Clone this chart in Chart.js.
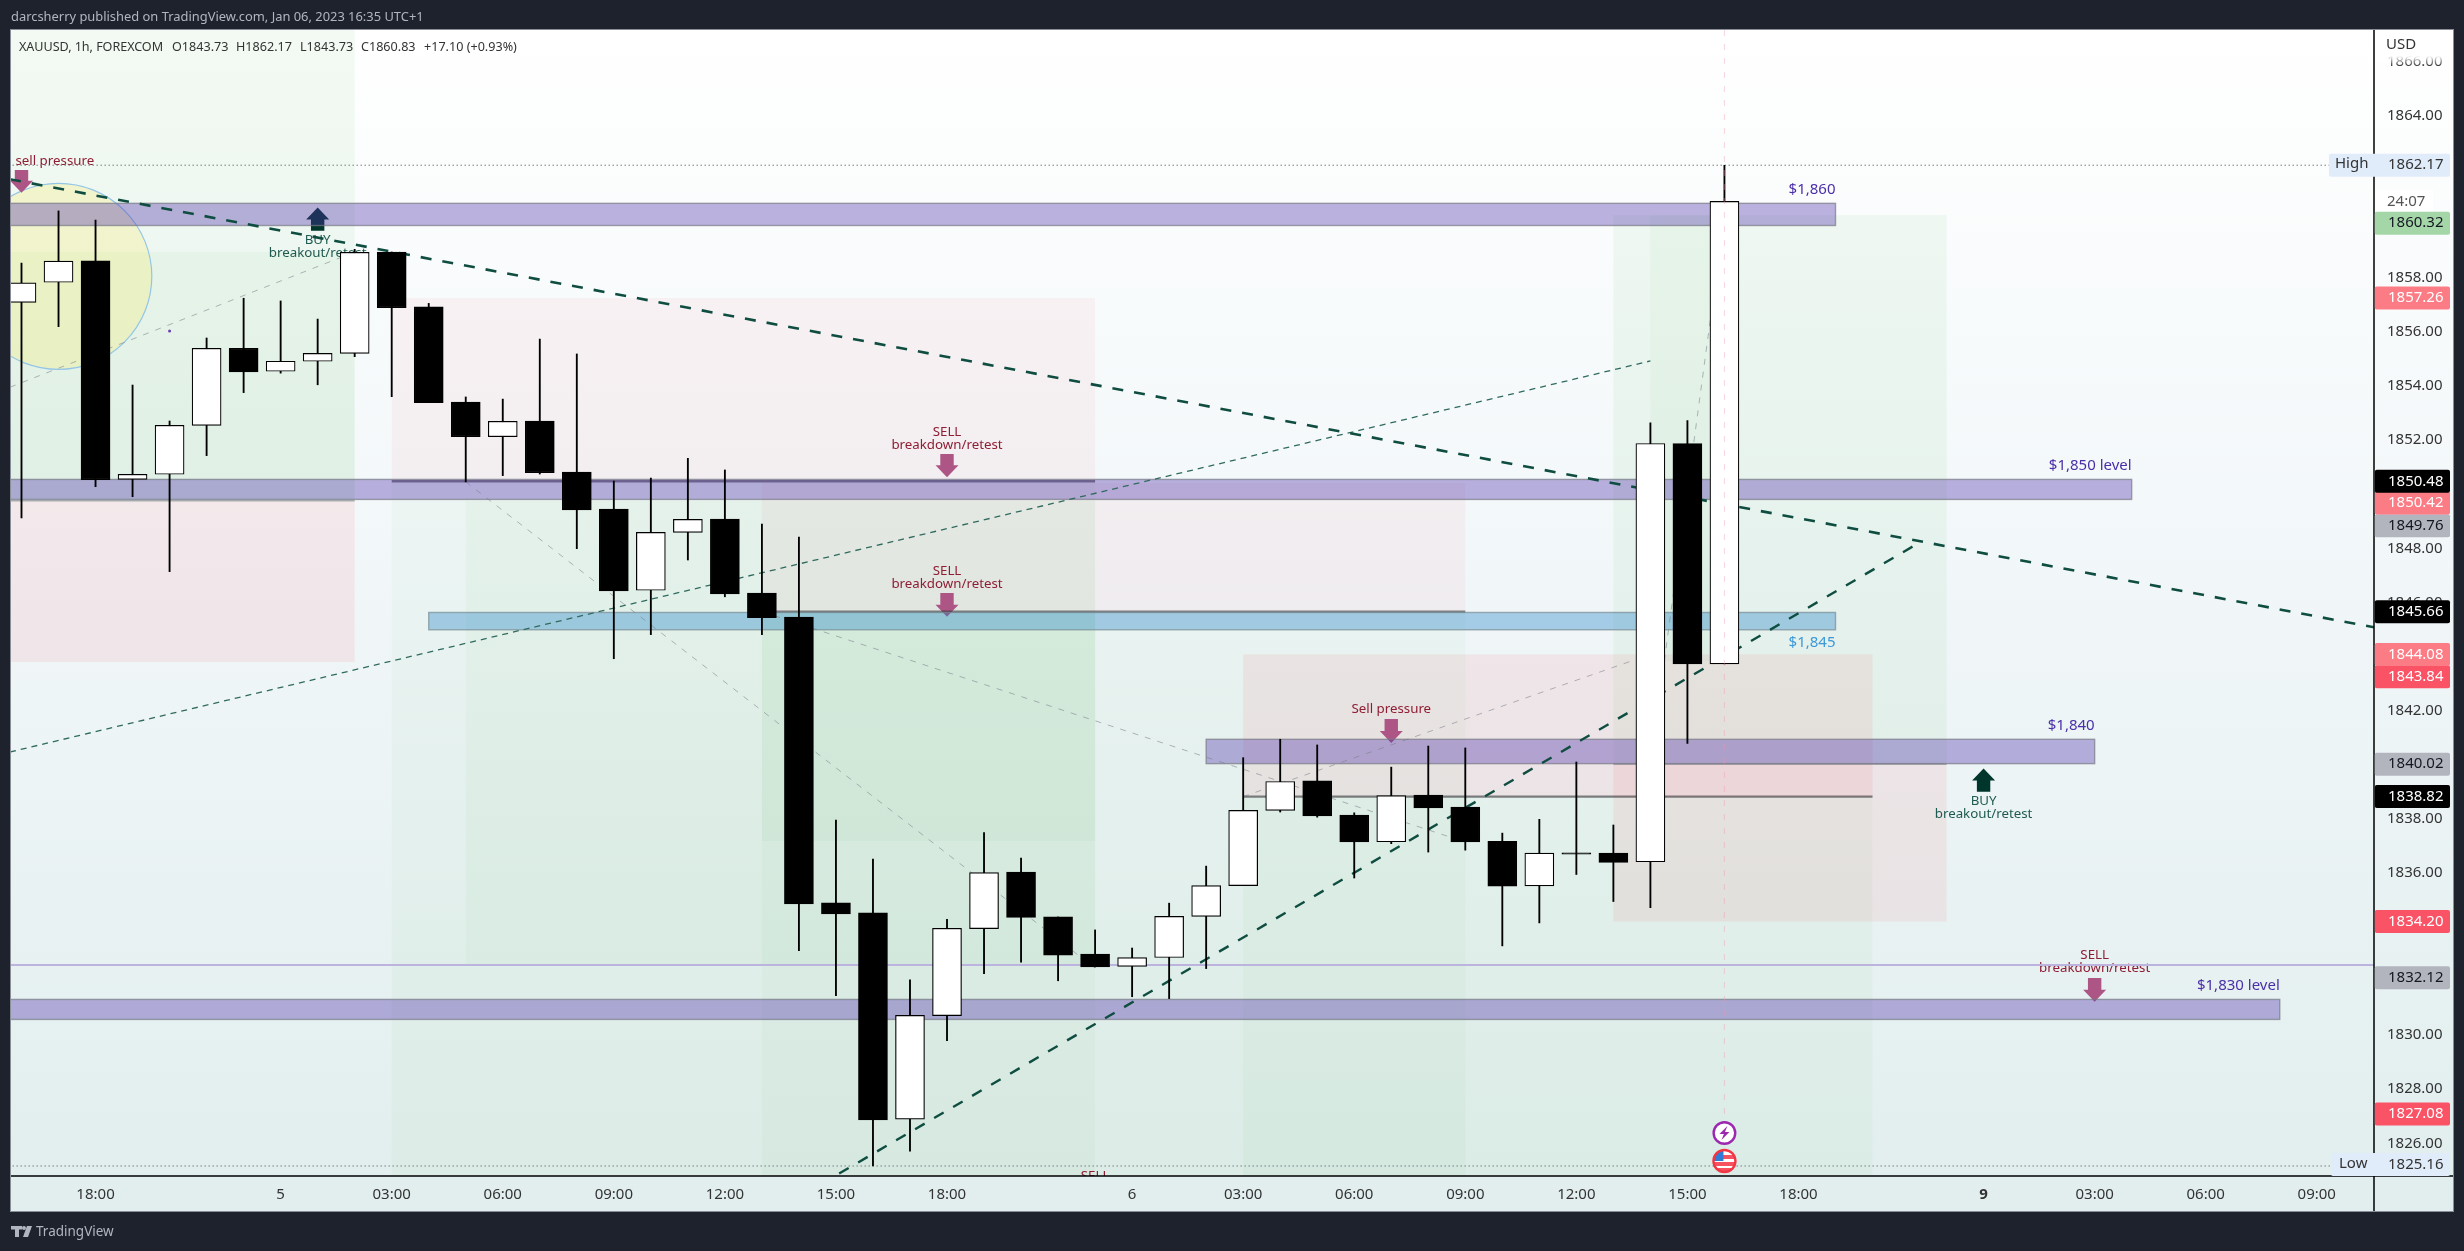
<!DOCTYPE html>
<html><head><meta charset="utf-8">
<style>html,body{margin:0;padding:0;background:#1e222d;overflow:hidden}canvas{display:block}</style>
<script src="https://cdn.jsdelivr.net/npm/chart.js@4/dist/chart.umd.min.js"></script>
</head><body><canvas id="c" width="2464" height="1251"></canvas>
<script>
// ---- candles, one per hourly bar, first bar = index 0
const opens=[1857.10,1857.84,1858.63,1850.55,1850.74,1852.55,1855.40,1854.55,1854.92,1855.21,1858.96,1856.93,1853.41,1852.13,1852.71,1850.82,1849.45,1846.45,1848.59,1849.08,1846.35,1845.46,1834.89,1834.52,1826.89,1830.72,1833.94,1836.03,1834.37,1833.00,1832.54,1832.87,1834.39,1835.53,1838.31,1839.40,1838.14,1837.15,1838.88,1838.43,1837.17,1835.52,1836.74,1836.73,1836.41,1851.88,1843.73];
const highs=[1858.55,1860.48,1860.14,1854.04,1852.71,1855.78,1857.25,1857.15,1856.48,1859.06,1858.96,1857.06,1853.60,1853.52,1855.74,1855.19,1850.49,1850.60,1851.33,1850.90,1848.90,1848.42,1837.95,1836.51,1832.04,1834.28,1837.49,1836.55,1834.37,1833.89,1833.22,1834.88,1836.25,1840.26,1840.94,1840.73,1838.22,1839.91,1840.69,1840.62,1837.47,1837.98,1840.10,1837.77,1852.64,1852.73,1862.17];
const lows=[1849.13,1856.20,1850.28,1849.91,1847.14,1851.43,1853.76,1854.48,1854.05,1855.09,1853.61,1853.39,1850.46,1850.69,1850.75,1847.99,1843.92,1844.81,1847.57,1846.21,1844.81,1833.12,1831.46,1825.16,1825.71,1829.79,1832.27,1832.70,1832.01,1832.52,1831.42,1831.35,1832.46,1835.53,1838.25,1838.06,1835.81,1837.08,1836.77,1836.84,1833.30,1834.15,1835.94,1834.94,1834.71,1840.79,1843.73];
const closes=[1857.82,1858.62,1850.54,1850.74,1852.55,1855.40,1854.53,1854.92,1855.21,1858.95,1856.90,1853.39,1852.13,1852.70,1850.80,1849.42,1846.43,1848.59,1849.07,1846.32,1845.44,1834.85,1834.48,1826.86,1830.73,1833.95,1836.01,1834.35,1832.96,1832.52,1832.87,1834.39,1835.53,1838.31,1839.38,1838.11,1837.14,1838.86,1838.40,1837.14,1835.51,1836.73,1836.69,1836.39,1851.88,1843.73,1860.83];
// ---- axes
const xTickBars=[2,7,10,13,16,19,22,25,30,33,36,39,42,45,48,53,56,59,62];
const xTickLabels=["18:00","5","03:00","06:00","09:00","12:00","15:00","18:00","6","03:00","06:00","09:00","12:00","15:00","18:00","9","03:00","06:00","09:00"];
const yTickValues=[1826,1828,1830,1832,1834,1836,1838,1840,1842,1844,1846,1848,1850,1852,1854,1856,1858,1860,1862,1864,1866];
const xMin=-0.2836,xMax=63.546,yMin=1824.79,yMax=1867.17;
// ---- drawings: [barFrom, barTo, priceTop, priceBottom]
const greenFaint=[[10,29,1850.48,1820],[20,39,1845.66,1820]];
const greenSoft=[[12,29,1849.76,1832.59],[33,50,1838.82,1820],[-1,9,1858.96,1849.76],[44,46,1860.32,1843.84],[20,29,1845.66,1837.18]];
const greenStrong=[[-1,9,1870,1849.76],[43,52,1860.32,1840.02]];
const redSoft=[[10,29,1857.26,1850.48],[20,39,1850.42,1845.66]];
const redStrong=[[-1,9,1849.76,1843.80],[33,50,1844.08,1838.82],[43,52,1840.02,1834.20]];
const purpleBands=[[-1,49,1860.76,1859.94],[-1,57,1850.55,1849.81],[32,56,1840.94,1840.04],[-1,61,1831.32,1830.58]];
const blueBands=[[11,49,1845.63,1844.99]];
// entry lines: [barFrom, barTo, price]
const entryLines=[[10,29,1850.48],[20,39,1845.66],[33,50,1838.82]];
const greyEntryLines=[[-1,9,1849.76],[43,52,1840.02]];
// band captions: [bar, price, text]
const bandCaptions=[[49,1861.26,"$1,860"],[57,1851.07,"$1,850 level"],[56,1841.45,"$1,840"],[61,1831.83,"$1,830 level"]];
const blueCaptions=[[49,1844.50,"$1,845"]];
// signal texts: [bar, price, text]
const redTexts=[[0.9,1862.32,"sell pressure"],[25,1852.30,"SELL"],[25,1851.80,"breakdown/retest"],[25,1847.16,"SELL"],[25,1846.67,"breakdown/retest"],[37,1842.04,"Sell pressure"],[56,1832.96,"SELL"],[56,1832.47,"breakdown/retest"],[29,1824.77,"SELL"]];
const tealTexts=[[8,1859.40,"BUY"],[8,1858.93,"breakout/retest"],[53,1838.64,"BUY"],[53,1838.16,"breakout/retest"]];
// arrows: [bar, tailPrice, tipPrice]
const sellArrows=[[0,1861.99,1861.15],[25,1851.49,1850.63],[25,1846.35,1845.47],[37,1841.69,1840.80],[56,1832.11,1831.23]];
const buyArrows=[[8,1859.75,1860.61],[53,1839.0,1839.86]];
// trend lines: [bar, price, bar, price]
const boldDown=[-0.31,1861.65,63.55,1845.08];
const boldUp=[21.06,1824.06,51.15,1848.12];
const thinUp=[-0.31,1840.47,44,1854.93];
const greyLines=[[-0.31,1853.96,9,1858.96],[12,1850.46,29,1832.48],[20,1845.66,39,1837.14],[33,1838.82,44,1844.08],[44,1840.02,46,1860.32]];
const highPrice=1862.17,lowPrice=1825.16,hLinePrice=1832.59;
const circle=[1,1858.06,2.52,3.44];
const markDot=[4,1856.04];
const nowBar=46;
// price tags: [price, text, background, text colour, extraShift]
const priceTags=[
 [1860.32,"1860.32","#a5d6a7","#131722",8],
 [1857.26,"1857.26","#fb7c85","#ffffff",0],
 [1849.76,"1849.76","#b2b5be","#131722",25],
 [1850.42,"1850.42","#fb7c85","#ffffff",20],
 [1850.48,"1850.48","#000000","#ffffff",0],
 [1845.66,"1845.66","#000000","#ffffff",0],
 [1843.84,"1843.84","#fa5366","#ffffff",16],
 [1844.08,"1844.08","#fb7c85","#ffffff",0],
 [1840.02,"1840.02","#b2b5be","#131722",0],
 [1838.82,"1838.82","#000000","#ffffff",0],
 [1834.20,"1834.20","#fa5366","#ffffff",0],
 [1832.12,"1832.12","#b2b5be","#131722",0],
 [1827.08,"1827.08","#fa5366","#ffffff",0]];
const FONT='"Noto Sans"';

function lineDS(a,color,width,dash,order){return {type:'line',data:[{x:a[0],y:a[1]},{x:a[2],y:a[3]}],borderColor:color,borderWidth:width,borderDash:dash,pointRadius:0,order:order,fill:false,tension:0};}

const background={id:'bg',beforeDraw(ch){const c=ch.ctx;c.save();c.fillStyle='#1e222d';c.fillRect(0,0,2464,1251);
 const g=c.createLinearGradient(0,30,0,1211);g.addColorStop(0,'#ffffff');g.addColorStop(.5,'#f0f6f8');g.addColorStop(1,'#e1eeed');
 c.fillStyle=g;c.fillRect(11,30,2442,1181);c.strokeStyle='#8a8e99';c.lineWidth=1;c.strokeRect(10.5,29.5,2443,1182);c.restore();}};

const drawings={id:'drawings',beforeDatasetsDraw(ch){const c=ch.ctx,X=ch.scales.x,Y=ch.scales.y,A=ch.chartArea;
 const px=v=>X.getPixelForValue(v),py=v=>Y.getPixelForValue(v);
 c.save();c.beginPath();c.rect(A.left,A.top,A.right-A.left,A.bottom-A.top);c.clip();
 const rect=(r,col)=>{c.fillStyle=col;c.fillRect(px(r[0]),py(r[2]),px(r[1])-px(r[0]),py(r[3])-py(r[2]));};
 greenFaint.forEach(r=>rect(r,'rgba(76,175,80,0.04)'));
 greenSoft.forEach(r=>rect(r,'rgba(76,175,80,0.045)'));
 greenStrong.forEach(r=>rect(r,'rgba(76,175,80,0.065)'));
 redSoft.forEach(r=>rect(r,'rgba(242,54,69,0.05)'));
 redStrong.forEach(r=>rect(r,'rgba(242,54,69,0.08)'));
 // circle
 c.beginPath();c.ellipse(px(circle[0]),py(circle[1]),px(circle[2])-px(0),py(0+1850)-py(1850+circle[3]),0,0,Math.PI*2);
 c.fillStyle='rgba(255,235,59,0.2)';c.fill();c.strokeStyle='#93c6e6';c.lineWidth=1.2;c.stroke();
 // arrows
 const arrow=(a,col)=>{const x=px(a[0]),t=py(a[1]),h=py(a[2]),d=h>t?1:-1;c.fillStyle=col;c.beginPath();
  c.moveTo(x-6.7,t);c.lineTo(x+6.7,t);c.lineTo(x+6.7,h-d*12);c.lineTo(x+11.5,h-d*12);c.lineTo(x,h);c.lineTo(x-11.5,h-d*12);c.lineTo(x-6.7,h-d*12);c.closePath();c.fill();};
 sellArrows.forEach(a=>arrow(a,'#ad5585'));
 buyArrows.forEach(a=>arrow(a,'#00352b'));
 // entry lines
 entryLines.forEach(l=>{c.strokeStyle='rgba(50,50,55,0.6)';c.lineWidth=2.4;c.beginPath();c.moveTo(px(l[0]),py(l[2]));c.lineTo(px(l[1]),py(l[2]));c.stroke();});
 greyEntryLines.forEach(l=>{c.strokeStyle='rgba(120,123,134,0.55)';c.lineWidth=1.6;c.beginPath();c.moveTo(px(l[0]),py(l[2]));c.lineTo(px(l[1]),py(l[2]));c.stroke();});
 // bands
 const band=(r,fill,stroke)=>{rect(r,fill);c.strokeStyle=stroke;c.lineWidth=1.4;c.strokeRect(px(r[0]),py(r[2]),px(r[1])-px(r[0]),py(r[3])-py(r[2]));};
 purpleBands.forEach(r=>band(r,'rgba(80,50,170,0.37)','rgba(120,123,134,0.7)'));
 blueBands.forEach(r=>band(r,'rgba(33,130,200,0.36)','rgba(120,140,150,0.7)'));
 // texts
 c.textBaseline='middle';c.font='15px '+FONT;c.textAlign='right';
 c.fillStyle='#4a2fa8';bandCaptions.forEach(t=>c.fillText(t[2],px(t[0]),py(t[1])));
 c.fillStyle='#3c98d8';blueCaptions.forEach(t=>c.fillText(t[2],px(t[0]),py(t[1])));
 c.textAlign='center';c.font='13.3px '+FONT;
 c.fillStyle='#8f1d33';redTexts.forEach(t=>c.fillText(t[2],px(t[0]),py(t[1])));
 c.fillStyle='#1f5a50';tealTexts.forEach(t=>c.fillText(t[2],px(t[0]),py(t[1])));
 c.restore();}
,afterDatasetsDraw(ch){const c=ch.ctx,X=ch.scales.x,Y=ch.scales.y,A=ch.chartArea;
 const x=X.getPixelForValue(nowBar);
 c.save();c.strokeStyle='rgba(240,150,170,0.35)';c.lineWidth=1.2;c.setLineDash([6,8]);c.beginPath();c.moveTo(x,A.top);c.lineTo(x,1122);c.stroke();c.setLineDash([]);
 c.fillStyle='#6a3fb5';c.beginPath();c.arc(X.getPixelForValue(markDot[0]),Y.getPixelForValue(markDot[1]),1.5,0,7);c.fill();
 // news markers
 let cy=1133;c.beginPath();c.arc(x,cy,10.8,0,7);c.fillStyle='#fff';c.fill();c.lineWidth=2.4;c.strokeStyle='#9c27b0';c.stroke();
 c.fillStyle='#9c27b0';c.beginPath();c.moveTo(x+3,cy-7);c.lineTo(x-5,cy+1);c.lineTo(x-.5,cy+1);c.lineTo(x-3,cy+7);c.lineTo(x+5,cy-1);c.lineTo(x+.5,cy-1);c.closePath();c.fill();
 cy=1161;c.save();c.beginPath();c.arc(x,cy,11,0,7);c.fillStyle='#fff';c.fill();c.clip();
 c.fillStyle='#f7525f';c.fillRect(x-11,cy-6,22,4);c.fillRect(x-11,cy+1,22,4);c.fillRect(x-11,cy+7,22,3);
 c.fillStyle='#2f7bd6';c.fillRect(x-11,cy-10,10,10);c.restore();
 c.beginPath();c.arc(x,cy,11,0,7);c.lineWidth=2.4;c.strokeStyle='#f23645';c.stroke();
 c.restore();},
 afterDraw(ch){const c=ch.ctx,Y=ch.scales.y,A=ch.chartArea;c.save();
 // axis lines
 c.strokeStyle='#000';c.lineWidth=1.5;c.beginPath();c.moveTo(A.right,30);c.lineTo(A.right,1211);c.moveTo(11,A.bottom);c.lineTo(2453,A.bottom);c.stroke();
 // fade at top of price axis
 const f=c.createLinearGradient(0,30,0,66);f.addColorStop(0,'#fff');f.addColorStop(.72,'#fff');f.addColorStop(1,'rgba(255,255,255,0)');
 c.fillStyle=f;c.fillRect(A.right+1,31,77,35);
 c.textBaseline='middle';c.textAlign='left';c.font='15px '+FONT;
 c.fillStyle='#333';c.fillText('USD',2386,45);
 // high / low tags
 const tag=(x0,cy,bg,txt,fg,label,lx)=>{c.fillStyle=bg;c.beginPath();c.roundRect(x0,cy-11.5,2450-x0,23,2);c.fill();c.fillStyle=fg;c.fillText(txt,2388,cy);if(label){c.fillStyle='#333';c.fillText(label,lx,cy-1);}};
 tag(2329,Y.getPixelForValue(highPrice),'#e1ecfa','1862.17','#333','High',2335);
 tag(2331,Y.getPixelForValue(lowPrice)-1.5,'#e1ecfa','1825.16','#333','Low',2339);
 // countdown
 c.fillStyle='#fff';c.fillRect(A.right+1,190,58,22);c.fillStyle='#555';c.fillText('24:07',2387,202);
 priceTags.forEach(t=>tag(A.right+.8,Y.getPixelForValue(t[0])+t[4],t[2],t[1],t[3]));
 // header
 c.font='12.9px '+FONT;c.fillStyle='#b2b5be';c.fillText('darcsherry published on TradingView.com, Jan 06, 2023 16:35 UTC+1',11,17);
 // legend
 c.font='12.6px '+FONT;c.fillStyle='#333';
 c.fillText('O1843.73',172,47);c.fillText('H1862.17',236,47);c.fillText('L1843.73',300,47);c.fillText('C1860.83',361,47);c.fillText('+17.10 (+0.93%)',424,47);
 c.letterSpacing='-0.05px';c.fillText('XAUUSD, 1h, FOREXCOM',19,47);c.letterSpacing='0px';
 // logo
 c.fillStyle='#b2b5be';c.fillRect(11,1226,11,3.5);c.fillRect(15,1226,4,11);c.beginPath();c.arc(24,1228,2,0,7);c.fill();c.beginPath();c.moveTo(27,1226);c.lineTo(32,1226);c.lineTo(28,1237);c.lineTo(23,1237);c.closePath();c.fill();
 c.font='13.5px '+FONT;c.fillText('TradingView',36,1232);
 c.restore();}};

const ohlc=opens.map((o,i)=>({o,h:highs[i],l:lows[i],c:closes[i]}));
new Chart(document.getElementById('c'),{
 type:'bar',
 data:{datasets:[
  {type:'bar',label:'bodies',data:ohlc.map((d,i)=>({x:i,y:[d.o,d.c]})),barThickness:29,grouped:false,order:1,
   backgroundColor:ohlc.map(d=>d.c>=d.o?'#ffffff':'#000000'),borderColor:'#000000',borderWidth:1.2,borderSkipped:false},
  {type:'bar',label:'wicks',data:ohlc.map((d,i)=>({x:i,y:[d.l,d.h]})),barThickness:1.2,grouped:false,order:2,backgroundColor:'#000000'},
  lineDS(boldDown,'#0f4d40',2.6,[11,11],3),
  lineDS(boldUp,'#0f4d40',2.4,[11,11],3),
  lineDS(thinUp,'#2f6a5e',1.3,[6,5],4),
  ...greyLines.map(g=>lineDS(g,'rgba(120,123,134,0.55)',1,[6,7],5)),
  lineDS([-1,highPrice,64,highPrice],'#787b86',1,[1.5,2.5],6),
  lineDS([-1,lowPrice,64,lowPrice],'#787b86',1,[1.5,2.5],6),
  lineDS([-1,hLinePrice,64,hLinePrice],'#bcb4de',2,[],7)
 ]},
 options:{responsive:false,devicePixelRatio:1,animation:false,events:[],
  layout:{padding:{left:11,top:30,right:11,bottom:40}},
  plugins:{legend:{display:false},tooltip:{enabled:false},title:{display:false}},
  scales:{
   x:{type:'linear',offset:false,min:xMin,max:xMax,grid:{display:false,drawTicks:false,offset:false},border:{display:false},
    afterBuildTicks:s=>{s.ticks=xTickBars.map(v=>({value:v}));},
    afterFit:s=>{s.height=35;},
    ticks:{autoSkip:false,maxRotation:0,minRotation:0,padding:10,color:'#333',
     font:c=>({family:FONT,size:15,weight:xTickLabels[c.index]==='9'?'bold':'normal'}),
     callback:(v,i)=>xTickLabels[i]}},
   y:{type:'linear',position:'right',min:yMin,max:yMax,grid:{display:false,drawTicks:false},border:{display:false},
    afterBuildTicks:s=>{s.ticks=yTickValues.map(v=>({value:v}));},
    afterFit:s=>{s.width=79;},
    ticks:{autoSkip:false,padding:13,color:'#333',font:{family:FONT,size:15},callback:v=>v.toFixed(2)}}
  }},
 plugins:[background,drawings]
});
</script></body></html>
